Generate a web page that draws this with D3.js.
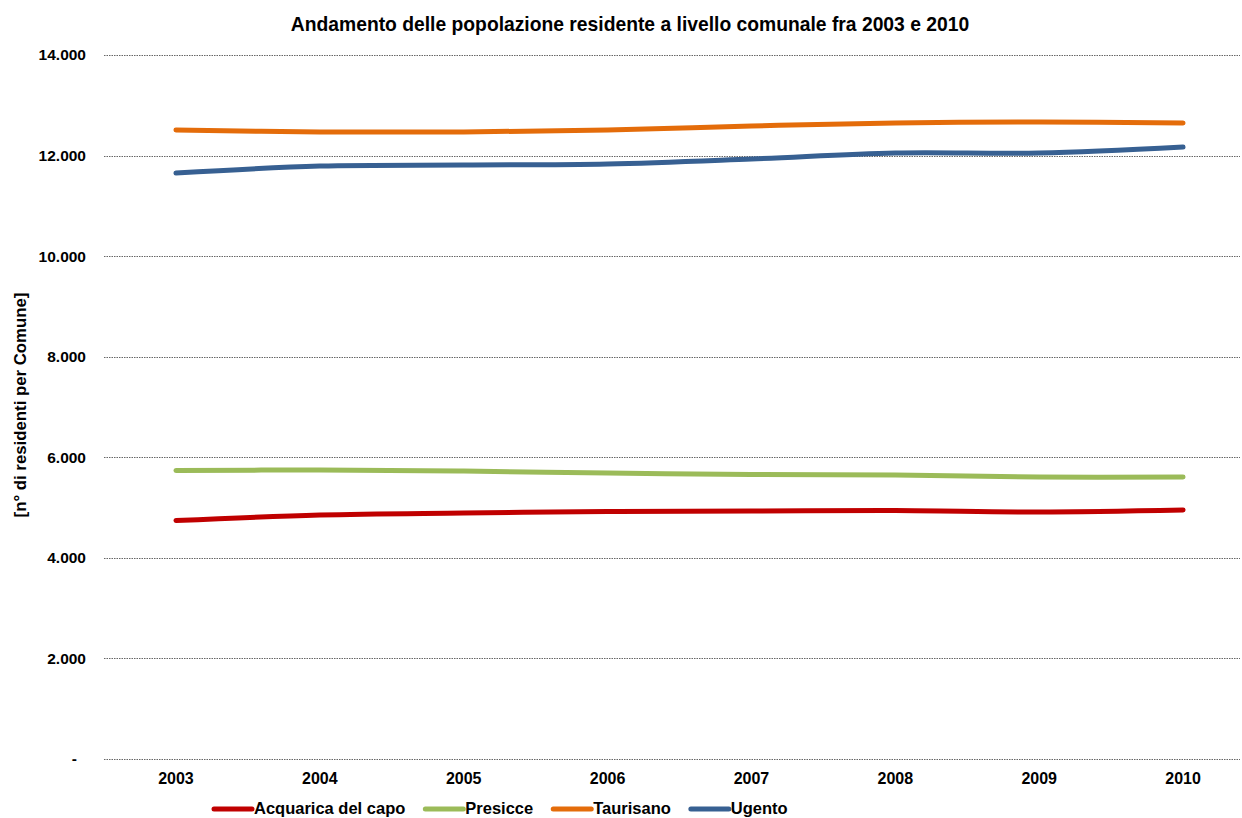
<!DOCTYPE html>
<html><head><meta charset="utf-8">
<script src="https://cdn.jsdelivr.net/npm/d3@7"></script>
<style>body{margin:0;background:#fff}svg{display:block;font-family:"Liberation Sans",Arial,sans-serif}</style>
</head><body><svg id="c" width="1242" height="818"></svg>
<script>
const years = ["2003","2004","2005","2006","2007","2008","2009","2010"];
const acquarica = [4743, 4852, 4892, 4922, 4932, 4942, 4912, 4952];
const presicce  = [5737, 5747, 5727, 5687, 5658, 5648, 5608, 5608];
const taurisano = [12508, 12469, 12469, 12508, 12588, 12648, 12667, 12648];
const ugento    = [11653, 11792, 11812, 11832, 11931, 12051, 12051, 12170];
const seriesNames = ["Acquarica del capo", "Presicce", "Taurisano", "Ugento"];
const seriesColors = ["#C00000", "#9BBB59", "#E46C0A", "#376092"];
const yTicks = [0, 2000, 4000, 6000, 8000, 10000, 12000, 14000];

const series = [acquarica, presicce, taurisano, ugento].map((v, i) => ({name: seriesNames[i], color: seriesColors[i], values: v}));

const svg = d3.select("#c");
const pLeft = 104, pRight = 1255, pTop = 55, pBottom = 759;
const x = d3.scaleBand().domain(years).range([pLeft, pRight]);
const y = d3.scaleLinear().domain([0, 14000]).range([pBottom, pTop]);
const loc = d3.formatLocale({decimal: ",", thousands: ".", grouping: [3], currency: ["€", ""]});
const fmt = v => v === 0 ? "-" : loc.format(",")(v);

// grid
svg.append("g").selectAll("line").data(yTicks).join("line")
  .attr("x1", pLeft).attr("x2", 1240)
  .attr("y1", d => Math.round(y(d)) + 0.5).attr("y2", d => Math.round(y(d)) + 0.5)
  .attr("stroke", "#666").attr("stroke-width", 1).attr("stroke-dasharray", "1.5,1");

// y axis labels
const ya = svg.append("g").attr("transform", `translate(86,0)`)
  .call(d3.axisLeft(y).tickValues(yTicks).tickFormat(fmt).tickSize(0).tickPadding(0));
ya.select(".domain").remove();
ya.selectAll("text").attr("font-size", 15.5).attr("font-weight", "bold").attr("fill", "#000")
  .attr("font-family", "'Liberation Sans', Arial, sans-serif")
  .attr("dx", d => d === 0 ? -9 : 0);

// x axis labels
const xa = svg.append("g").attr("transform", `translate(0,${pBottom})`)
  .call(d3.axisBottom(x).tickSize(0).tickPadding(14));
xa.select(".domain").remove();
xa.selectAll("text").attr("font-size", 16).attr("font-weight", "bold").attr("fill", "#000")
  .attr("font-family", "'Liberation Sans', Arial, sans-serif");

// lines
const line = d3.line().x((d, i) => x(years[i]) + x.bandwidth() / 2).y(d => y(d)).curve(d3.curveCatmullRom.alpha(0.5));
svg.append("g").selectAll("path").data(series).join("path")
  .attr("d", d => line(d.values)).attr("fill", "none")
  .attr("stroke", d => d.color).attr("stroke-width", 5).attr("stroke-linecap", "round").attr("stroke-linejoin", "round");

// title
svg.append("text").attr("x", 630).attr("y", 31).attr("text-anchor", "middle")
  .attr("font-size", 19.3).attr("font-weight", "bold")
  .text("Andamento delle popolazione residente a livello comunale fra 2003 e 2010");

// y title
svg.append("text").attr("transform", "translate(26,405) rotate(-90)").attr("text-anchor", "middle")
  .attr("font-size", 16.8).attr("font-weight", "bold")
  .text("[n° di residenti per Comune]");

// legend
const lg = svg.append("g");
let lx = 214;
series.forEach(s => {
  lg.append("line").attr("x1", lx).attr("x2", lx + 38).attr("y1", 809).attr("y2", 809)
    .attr("stroke", s.color).attr("stroke-width", 5).attr("stroke-linecap", "round");
  const t = lg.append("text").attr("x", lx + 40).attr("y", 813.5).attr("font-size", 16.5).attr("font-weight", "bold").text(s.name);
  lx += 40 + t.node().getComputedTextLength() + 20;
});
</script></body></html>
